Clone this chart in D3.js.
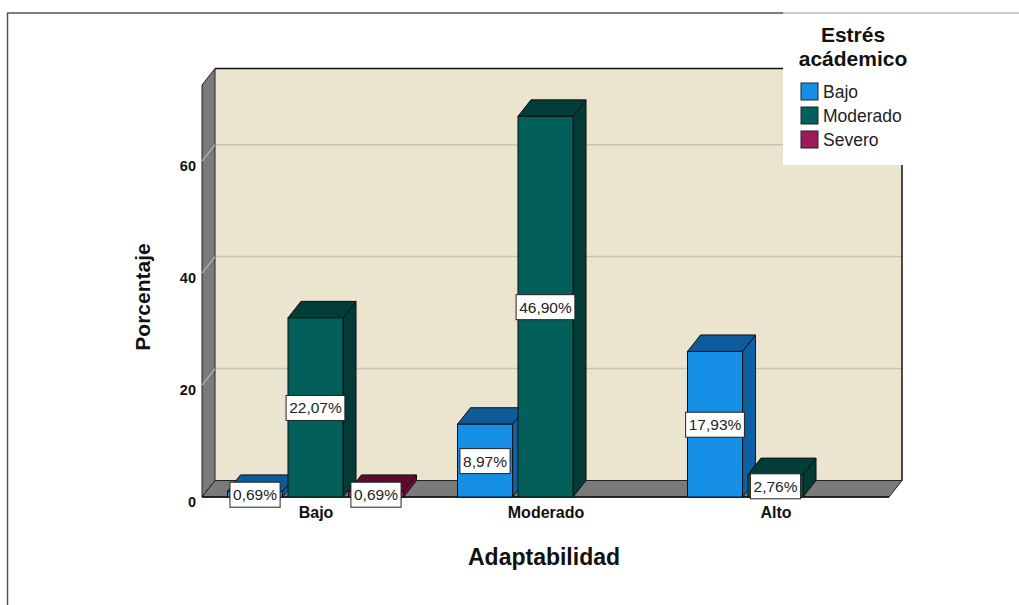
<!DOCTYPE html>
<html>
<head>
<meta charset="utf-8">
<script src="https://cdn.jsdelivr.net/npm/d3@7"></script>
<style>
  html, body { margin: 0; padding: 0; background: #fff; }
  svg { display: block; font-family: "Liberation Sans", Arial, sans-serif; }
</style>
</head>
<body>
<svg id="chart" width="1019" height="605"></svg>
<script>
// Adaptabilidad (x groups) by Estrés académico (series); bar heights are case counts
const categories = ["Bajo", "Moderado", "Alto"];
const series = ["Bajo", "Moderado", "Severo"];
const countsBajo = [1, 32, 1];
const countsModerado = [13, 68, 0];
const countsAlto = [26, 4, 0];
const totalCases = 145;
const yTicks = [0, 20, 40, 60];
const yMax = 73.6;

const seriesColors = {
  Bajo:     { front: "#1690e6", top: "#0d5b9a", side: "#0d60a3" },
  Moderado: { front: "#035f5a", top: "#023d39", side: "#033b37" },
  Severo:   { front: "#9e1a58", top: "#5e0b2d", side: "#6a0c34" }
};

const countsByCategory = { Bajo: countsBajo, Moderado: countsModerado, Alto: countsAlto };
const rows = [];
categories.forEach(c => series.forEach((s, i) => rows.push({ cat: c, ser: s, n: countsByCategory[c][i] })));

const svg = d3.select("#chart");

// depth offset of the 3-D look
const dx = 13, dy = -16.5;
const floorY = 497, topY = 85;
const wallL = 202, wallR = 889;

const x0 = d3.scaleBand().domain(categories).range([201, 891]);
const x1 = d3.scaleBand().domain(series).range([26.5, 202.5]).paddingInner(0.09);
const y = d3.scaleLinear().domain([0, yMax]).range([floorY, topY]);

// outer frame
svg.append("line").attr("x1", 7.5).attr("x2", 7.5).attr("y1", 13).attr("y2", 605)
  .attr("stroke", "#555").attr("stroke-width", 1.5);
svg.append("line").attr("x1", 7).attr("x2", 783).attr("y1", 13).attr("y2", 13)
  .attr("stroke", "#555").attr("stroke-width", 1.5);
svg.append("line").attr("x1", 783).attr("x2", 1019).attr("y1", 13).attr("y2", 13)
  .attr("stroke", "#bbb").attr("stroke-width", 1.5);

const plot = svg.append("g");

// back wall
plot.append("rect")
  .attr("x", wallL + dx).attr("y", topY + dy)
  .attr("width", wallR - wallL).attr("height", floorY - topY)
  .attr("fill", "#ebe4cf");

// gridlines on back wall
plot.selectAll("line.grid").data(yTicks.filter(d => d > 0)).join("line")
  .attr("class", "grid")
  .attr("x1", wallL + dx).attr("x2", wallR + dx)
  .attr("y1", d => y(d) + dy).attr("y2", d => y(d) + dy)
  .attr("stroke", "#c8c4b7").attr("stroke-width", 1.5);

// back wall top and right edges
plot.append("path")
  .attr("d", `M${wallL + dx},${topY + dy}H${wallR + dx}V${floorY + dy}`)
  .attr("fill", "none").attr("stroke", "#111").attr("stroke-width", 1.5);

// left side wall
plot.append("path")
  .attr("d", `M${wallL},${topY}L${wallL + dx},${topY + dy}L${wallL + dx},${floorY + dy}L${wallL},${floorY}Z`)
  .attr("fill", "#7a7a7a").attr("stroke", "#222").attr("stroke-width", 1);

// gridlines across side wall
plot.selectAll("line.sgrid").data(yTicks.filter(d => d > 0)).join("line")
  .attr("class", "sgrid")
  .attr("x1", wallL).attr("x2", wallL + dx)
  .attr("y1", d => y(d)).attr("y2", d => y(d) + dy)
  .attr("stroke", "#b5b5b5").attr("stroke-width", 1.2);

// floor
plot.append("path")
  .attr("d", `M${wallL},${floorY}L${wallL + dx},${floorY + dy}L${wallR + dx},${floorY + dy}L${wallR},${floorY}Z`)
  .attr("fill", "#7a7a7a").attr("stroke", "#222").attr("stroke-width", 1);
plot.append("line")
  .attr("x1", wallL).attr("x2", wallR).attr("y1", floorY).attr("y2", floorY)
  .attr("stroke", "#111").attr("stroke-width", 1.5);

// bars
const bars = plot.append("g");
const drawn = rows.filter(d => d.n > 0);
drawn.forEach(d => {
  const x = x0(d.cat) + x1(d.ser);
  const w = x1.bandwidth();
  const yt = y(d.n), yb = y(0);
  const col = seriesColors[d.ser];
  const g = bars.append("g");
  g.append("path")
    .attr("d", `M${x + w},${yt}L${x + w + dx},${yt + dy}L${x + w + dx},${yb + dy}L${x + w},${yb}Z`)
    .attr("fill", col.side).attr("stroke", "#111").attr("stroke-width", 1);
  g.append("path")
    .attr("d", `M${x},${yt}L${x + dx},${yt + dy}L${x + w + dx},${yt + dy}L${x + w},${yt}Z`)
    .attr("fill", col.top).attr("stroke", "#111").attr("stroke-width", 1);
  g.append("rect")
    .attr("x", x).attr("y", yt).attr("width", w).attr("height", yb - yt)
    .attr("fill", col.front).attr("stroke", "#111").attr("stroke-width", 1);
});

// value labels: share of all cases
const fmtPct = n => d3.format(".2f")(n / totalCases * 100).replace(".", ",") + "%";
const labels = plot.append("g");
drawn.forEach(d => {
  const cx = x0(d.cat) + x1(d.ser) + x1.bandwidth() / 2;
  const cy = (y(d.n) + y(0)) / 2 + 0.5;
  const g = labels.append("g");
  const t = g.append("text")
    .attr("x", cx).attr("y", cy)
    .attr("text-anchor", "middle").attr("dominant-baseline", "central")
    .attr("font-size", "15.5px").attr("fill", "#222")
    .text(fmtPct(d.n));
  const bb = t.node().getBBox();
  g.insert("rect", "text")
    .attr("x", cx - bb.width / 2 - 3).attr("y", cy - 12.5)
    .attr("width", bb.width + 6).attr("height", 25)
    .attr("fill", "#fff").attr("stroke", "#222").attr("stroke-width", 1);
});

// y axis
const yAxis = svg.append("g")
  .attr("transform", `translate(196,5)`)
  .call(d3.axisLeft(y).tickValues(yTicks).tickSize(0).tickPadding(0).tickFormat(d3.format("d")));
yAxis.select(".domain").remove();
yAxis.selectAll("text").attr("font-family", "'Liberation Sans', Arial, sans-serif")
  .attr("font-size", "14.5px").attr("font-weight", "bold").attr("fill", "#111");

// x axis
const xAxis = svg.append("g")
  .attr("transform", `translate(0,${floorY + 6})`)
  .call(d3.axisBottom(x0).tickSize(0).tickPadding(4));
xAxis.select(".domain").remove();
xAxis.selectAll("text").attr("font-family", "'Liberation Sans', Arial, sans-serif")
  .attr("font-size", "16px").attr("font-weight", "bold").attr("fill", "#111");

// axis titles
svg.append("text")
  .attr("x", 544).attr("y", 565)
  .attr("text-anchor", "middle")
  .attr("font-size", "23px").attr("font-weight", "bold").attr("fill", "#111")
  .text("Adaptabilidad");
svg.append("text")
  .attr("transform", "translate(150,297) rotate(-90)")
  .attr("text-anchor", "middle")
  .attr("font-size", "21px").attr("font-weight", "bold").attr("fill", "#111")
  .text("Porcentaje");

// legend
const legend = svg.append("g");
legend.append("rect").attr("x", 783).attr("y", 14).attr("width", 236).attr("height", 151).attr("fill", "#fff");
legend.append("text").attr("x", 853).attr("y", 42).attr("text-anchor", "middle")
  .attr("font-size", "21px").attr("font-weight", "bold").attr("fill", "#111").text("Estrés");
legend.append("text").attr("x", 853).attr("y", 66).attr("text-anchor", "middle")
  .attr("font-size", "21px").attr("font-weight", "bold").attr("fill", "#111").text("acádemico");
const items = legend.selectAll("g.item").data(series).join("g")
  .attr("class", "item")
  .attr("transform", (d, i) => `translate(801,${83 + i * 24})`);
items.append("rect").attr("width", 17).attr("height", 17)
  .attr("fill", d => seriesColors[d].front).attr("stroke", "#222").attr("stroke-width", 1);
items.append("text").attr("x", 22).attr("y", 15)
  .attr("font-size", "17.5px").attr("fill", "#222").text(d => d);
</script>
</body>
</html>
